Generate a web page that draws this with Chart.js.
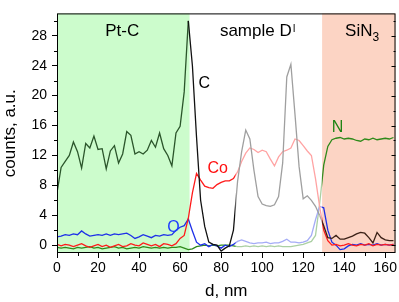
<!DOCTYPE html>
<html>
<head>
<meta charset="utf-8">
<script src="https://cdn.jsdelivr.net/npm/chart.js@4.4.0/dist/chart.umd.min.js"></script>
<style>
    html, body { margin: 0; padding: 0; background: #fff; }
    #wrap { width: 399px; height: 302px; }
</style>
</head>
<body>
<div id="wrap"><canvas id="chart" width="399" height="302"></canvas></div>
<script>
// Depth, nm
const distance = [
    0, 2, 4, 6, 8, 10, 12, 14, 16, 18,
    20, 22, 24, 26, 28, 30, 32, 34, 36, 38,
    40, 42, 44, 46, 48, 50, 52, 54, 56, 58,
    60, 62, 64, 66, 68, 70, 72, 74, 76, 78,
    80, 82, 84, 86, 88, 90, 92, 94, 96, 98,
    100, 102, 104, 106, 108, 110, 112, 114, 116, 118,
    120, 122, 124, 126, 128, 130, 132, 134, 136, 138,
    140, 142, 144, 146, 148, 150, 152, 154, 156, 158,
    160, 162, 164
];

// Counts per element
const carbon = [
    7.0, 10.4, 11.2, 12.0, 13.8, 12.5, 10.3, 13.6, 13.0, 14.6,
    12.8, 12.9, 10.2, 12.6, 13.3, 11.0, 12.2, 15.2, 14.7, 12.2,
    12.5, 12.2, 12.7, 14.0, 13.1, 15.0, 12.9, 12.0, 10.6, 15.0,
    15.9, 20.5, 30.0, 24.0, 14.5, 6.0, 2.5, 0.4, 0.1, 0.0,
    -0.8, -0.4, -0.1, 2.0, 8.5, 12.5, 15.4, 14.2, 10.0, 6.5,
    5.5, 5.3, 5.2, 5.4, 6.5, 11.0, 22.5, 24.2, 17.5, 10.5,
    6.2, 6.6, 6.0, 5.2, 4.0, 2.6, 1.0, 0.9, 1.3, 0.8,
    0.8, 1.0, 1.2, 1.5, 1.7, 1.6, 1.0, 0.3, 1.7, 1.0,
    0.7, 0.6, 0.6
];
const cobalt = [
    0.1, -0.1, 0.1, 0.0, -0.2, 0.0, 0.2, -0.1, -0.3, -0.1,
    0.1, -0.2, 0.0, -0.3, -0.1, 0.1, -0.2, -0.1, 0.2, 0.0,
    -0.1, 0.3, 0.1, -0.1, 0.1, -0.2, 0.2, 0.1, -0.1, 0.2,
    0.9, 1.3, 3.6, 7.0, 9.6, 8.7, 7.9, 7.7, 7.6, 8.1,
    8.4, 8.6, 8.6, 8.9, 9.8, 11.2, 12.3, 13.0, 12.8, 12.4,
    12.7, 12.5, 11.5, 10.6, 11.8, 12.5, 12.7, 13.0, 14.2, 14.0,
    13.3, 12.6, 12.0, 8.9, 5.2, 2.0, 0.6, 0.0, 0.1, -0.1,
    0.0, 0.2, 0.0, -0.1, 0.1, 0.0, 0.2, -0.1, 0.1, 0.0,
    0.1, 0.0, 0.1
];
const oxygen = [
    1.1, 1.2, 1.4, 1.3, 1.5, 1.4, 1.9, 1.5, 1.2, 1.3,
    1.4, 1.3, 1.5, 1.3, 1.5, 1.4, 1.5, 1.6, 1.3, 0.9,
    1.1, 1.4, 1.2, 1.0, 1.3, 1.2, 1.4, 1.3, 1.4, 2.0,
    2.4, 2.6, 3.5, 1.9, 0.4, 0.0, 0.2, -0.2, 0.1, -0.1,
    -0.4, 0.0, -0.2, 0.1, 0.5, 0.7, 0.5, 0.3, 0.2, 0.3,
    0.3, 0.4, 0.2, 0.3, 0.3, 0.5, 0.8, 0.4, 0.4, 0.3,
    0.4, 0.6, 1.3, 3.4, 5.2, 5.0, 2.0, 0.4, 0.0, -0.6,
    -0.5, -0.1, 0.1, 0.0, 0.2, 0.0, 0.1, 0.0, 0.2, 0.0,
    0.1, 0.0, 0.1
];
const nitrogen = [
    -0.3, -0.4, -0.3, -0.4, -0.5, -0.3, -0.4, -0.3, -0.2, -0.4,
    -0.3, -0.5, -0.4, -0.3, -0.2, -0.4, -0.3, -0.5, -0.4, -0.3,
    -0.4, -0.2, -0.3, -0.4, -0.3, -0.4, -0.3, -0.4, -0.3, -0.3,
    -0.2, -0.4, -0.6, -0.5, -0.2, -0.1, 0.0, -0.1, 0.0, -0.1,
    0.0, 0.0, 0.0, -0.1, -0.2, -0.2, -0.1, -0.2, -0.1, -0.2,
    -0.1, -0.2, -0.1, -0.2, -0.1, -0.2, -0.2, -0.2, -0.1, 0.0,
    0.1, 0.3, 0.5, 1.3, 5.5, 10.7, 13.2, 14.1, 14.3, 14.4,
    14.2, 14.3, 14.2, 14.0, 13.9, 14.2, 14.1, 14.3, 14.1, 14.2,
    14.3, 14.2, 14.4
];

// Axis ticks
const xTicks = [0, 20, 40, 60, 80, 100, 120, 140, 160];
const xMinorTicks = [10, 30, 50, 70, 90, 110, 130, 150];
const yTicks = [0, 4, 8, 12, 16, 20, 24, 28];
const yMinorTicks = [2, 6, 10, 14, 18, 22, 26, 30];

// Layer boundaries, nm
const ptcLayer = [0, 64.6];
const sinLayer = [129.2, 165];
const sampleFade = [87, 129.2];

const FONT = "'Liberation Sans', Arial, sans-serif";

// Text placed on the plot (data coordinates)
const elementLabels = [
    {text: "C", x: 69.0, y: 21.0, color: "#000000"},
    {text: "Co", x: 73.3, y: 9.6, color: "#ff1010"},
    {text: "O", x: 53.7, y: 1.8, color: "#1e3cff"},
    {text: "N", x: 133.9, y: 15.1, color: "#1f8414"}
];

function toPoints(values) {
    return distance.map((d, i) => ({x: d, y: values[i]}));
}

const layersPlugin = {
    id: "layers",
    beforeDatasetsDraw(chart) {
        const {ctx, chartArea: a, scales: {x}} = chart;
        ctx.save();
        ctx.fillStyle = "#ccfccc";
        let x0 = x.getPixelForValue(ptcLayer[0]);
        let x1 = x.getPixelForValue(ptcLayer[1]);
        ctx.fillRect(x0, a.top, x1 - x0, a.bottom - a.top);
        ctx.fillStyle = "#fcd4c4";
        x0 = x.getPixelForValue(sinLayer[0]);
        x1 = x.getPixelForValue(sinLayer[1]);
        ctx.fillRect(x0, a.top, x1 - x0, a.bottom - a.top);
        ctx.restore();
    },
    afterDatasetsDraw(chart) {
        // the sample region is shown washed out
        const {ctx, chartArea: a, scales: {x}} = chart;
        const x0 = x.getPixelForValue(sampleFade[0]);
        const x1 = x.getPixelForValue(sampleFade[1]);
        ctx.save();
        ctx.fillStyle = "rgba(255, 255, 255, 0.6)";
        ctx.fillRect(x0, a.top, x1 - x0, a.bottom - a.top);
        ctx.restore();
    },
    afterDraw(chart) {
        const {ctx, chartArea: a, scales: {x, y}} = chart;
        ctx.save();

        // frame
        ctx.strokeStyle = "#000";
        ctx.lineWidth = 1;
        ctx.strokeRect(a.left + 0.5, a.top + 0.5, a.right - a.left - 1, a.bottom - a.top - 1);

        // minor ticks and inner ticks on the right side
        ctx.beginPath();
        xMinorTicks.forEach(v => {
            const px = Math.round(x.getPixelForValue(v)) + 0.5;
            ctx.moveTo(px, a.bottom);
            ctx.lineTo(px, a.bottom + 3);
        });
        yMinorTicks.forEach(v => {
            const py = Math.round(y.getPixelForValue(v)) + 0.5;
            ctx.moveTo(a.left, py);
            ctx.lineTo(a.left - 3, py);
            ctx.moveTo(a.right, py);
            ctx.lineTo(a.right - 2, py);
        });
        yTicks.forEach(v => {
            const py = Math.round(y.getPixelForValue(v)) + 0.5;
            ctx.moveTo(a.right, py);
            ctx.lineTo(a.right - 4, py);
        });
        ctx.stroke();

        // layer names
        ctx.fillStyle = "#000";
        ctx.textBaseline = "alphabetic";
        ctx.textAlign = "left";
        ctx.font = "17px " + FONT;
        const base = y.getPixelForValue(28);
        ctx.fillText("Pt-C", x.getPixelForValue(23.5), base);

        let px = x.getPixelForValue(79.4);
        ctx.fillText("sample D", px, base);
        px += ctx.measureText("sample D").width + 1;
        ctx.font = "10px " + FONT;
        ctx.fillText("I", px, base - 4);

        ctx.font = "17px " + FONT;
        px = x.getPixelForValue(140.4);
        ctx.fillText("SiN", px, base);
        px += ctx.measureText("SiN").width;
        ctx.font = "12px " + FONT;
        ctx.fillText("3", px, base + 5);

        // element names
        ctx.font = "16px " + FONT;
        elementLabels.forEach(l => {
            ctx.fillStyle = l.color;
            ctx.fillText(l.text, x.getPixelForValue(l.x), y.getPixelForValue(l.y));
        });
        ctx.restore();
    }
};

const ctx = document.getElementById("chart").getContext("2d");

new Chart(ctx, {
    type: "line",
    data: {
        datasets: [
            {
                label: "C",
                data: toPoints(carbon),
                borderWidth: 1.3,
                segment: {
                    borderColor: c => {
                        if (c.p0.parsed.x < 64) return "#2b552b";
                        if (c.p0.parsed.x >= 128) return "#3a2016";
                        return "#111111";
                    }
                },
                borderColor: "#111111"
            },
            {
                label: "Co",
                data: toPoints(cobalt),
                borderColor: "#ff1a1a",
                borderWidth: 1.3
            },
            {
                label: "O",
                data: toPoints(oxygen),
                borderColor: "#1e30e8",
                borderWidth: 1.3
            },
            {
                label: "N",
                data: toPoints(nitrogen),
                borderColor: "#2e8a1a",
                borderWidth: 1.3
            }
        ]
    },
    options: {
        responsive: false,
        animation: false,
        layout: {
            padding: {top: 0, right: 2, bottom: 0, left: 0}
        },
        elements: {
            point: {radius: 0},
            line: {tension: 0, fill: false}
        },
        plugins: {
            legend: {display: false},
            tooltip: {enabled: false}
        },
        scales: {
            x: {
                type: "linear",
                min: 0,
                max: 165,
                afterBuildTicks: axis => {
                    axis.ticks = xTicks.map(v => ({value: v}));
                },
                afterFit: axis => {
                    axis.height = 49;
                },
                border: {display: false},
                grid: {
                    drawOnChartArea: false,
                    drawTicks: true,
                    tickLength: 5,
                    color: "#000"
                },
                ticks: {
                    autoSkip: false,
                    maxRotation: 0,
                    padding: 2,
                    color: "#000",
                    font: {family: FONT, size: 14}
                },
                title: {
                    display: true,
                    text: "d, nm",
                    color: "#000",
                    padding: {top: 0, bottom: 0},
                    font: {family: FONT, size: 17}
                }
            },
            y: {
                type: "linear",
                min: -1.05,
                max: 31,
                afterBuildTicks: axis => {
                    axis.ticks = yTicks.map(v => ({value: v}));
                },
                afterFit: axis => {
                    axis.width = 57;
                },
                border: {display: false},
                grid: {
                    drawOnChartArea: false,
                    drawTicks: true,
                    tickLength: 5,
                    color: "#000"
                },
                ticks: {
                    padding: 5,
                    color: "#000",
                    font: {family: FONT, size: 14}
                },
                title: {
                    display: true,
                    text: "counts, a.u.",
                    color: "#000",
                    padding: {top: 0, bottom: 2},
                    font: {family: FONT, size: 17}
                }
            }
        }
    },
    plugins: [layersPlugin]
});
</script>
</body>
</html>
